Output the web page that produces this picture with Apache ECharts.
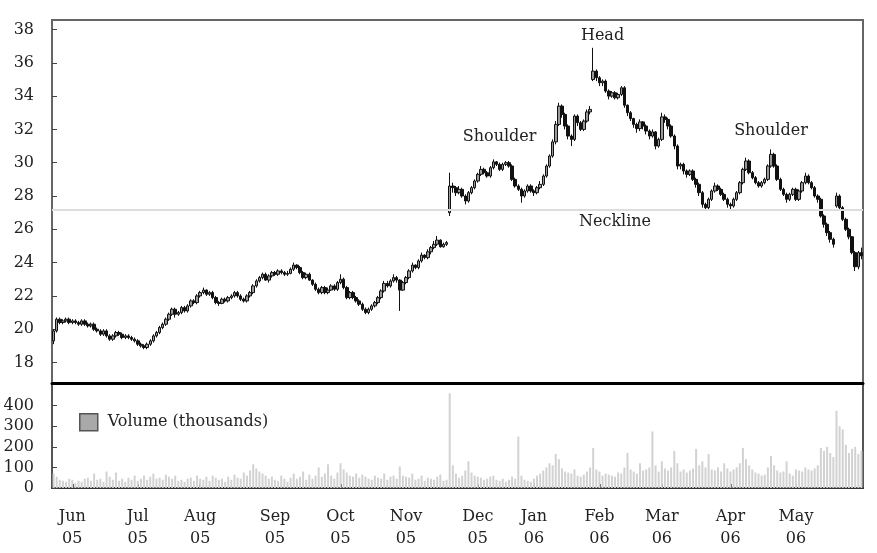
<!DOCTYPE html>
<html><head><meta charset="utf-8">
<script src="https://cdn.jsdelivr.net/npm/echarts@6/dist/echarts.min.js"></script>
<style>html,body{margin:0;padding:0;background:#fff}#c{width:877px;height:553px}</style>
</head><body><div id="c"></div>
<script>
// Month labels for the x axis (first block is the tail of May 05, unlabeled)
const monthLabels = ['May\n05','Jun\n05','Jul\n05','Aug\n05','Sep\n05','Oct\n05','Nov\n05','Dec\n05','Jan\n06','Feb\n06','Mar\n06','Apr\n06','May\n06'];

// Daily rows: [open, close, low, high, volume (thousands)]
const may05 = [
[19.3,19.9,19.1,20.0,70],[19.9,20.6,19.8,20.7,55],[20.6,20.4,20.3,20.7,40],[20.4,20.5,20.3,20.6,35],[20.5,20.6,20.4,20.7,30],[20.6,20.4,20.3,20.7,45]];
const jun05 = [
[20.4,20.5,20.3,20.6,40],[20.5,20.4,20.3,20.6,25],[20.4,20.3,20.2,20.5,35],[20.3,20.5,20.2,20.6,30],[20.5,20.3,20.2,20.6,45],
[20.3,20.2,20.1,20.4,50],[20.2,20.3,20.1,20.4,35],[20.3,20.0,19.9,20.4,70],[20.0,19.9,19.8,20.1,40],[19.9,19.7,19.6,20.0,45],
[19.7,19.9,19.6,20.0,30],[19.9,19.6,19.5,20.0,80],[19.6,19.4,19.3,19.7,55],[19.4,19.6,19.3,19.7,40],[19.6,19.8,19.5,19.9,75],
[19.8,19.7,19.6,19.9,35],[19.7,19.5,19.4,19.8,45],[19.5,19.6,19.4,19.7,30],[19.6,19.5,19.4,19.7,50],[19.5,19.4,19.3,19.6,40],
[19.4,19.3,19.2,19.5,60]];
const jul05 = [
[19.3,19.1,19.0,19.4,35],[19.1,19.0,18.9,19.2,45],[19.0,18.9,18.8,19.1,60],[18.9,19.1,18.8,19.2,40],[19.1,19.3,19.0,19.4,55],
[19.3,19.6,19.2,19.7,70],[19.6,19.8,19.5,19.9,45],[19.8,20.1,19.7,20.2,50],[20.1,20.3,20.0,20.4,40],[20.3,20.6,20.2,20.7,65],
[20.6,20.9,20.5,21.0,55],[20.9,21.2,20.8,21.3,45],[21.2,20.9,20.7,21.3,60],[20.9,21.0,20.8,21.1,35],[21.0,21.3,20.9,21.4,40],
[21.3,21.1,21.0,21.4,30],[21.1,21.4,21.0,21.5,45],[21.4,21.7,21.3,21.8,50],[21.7,21.6,21.5,21.8,35],[21.6,22.0,21.5,22.1,60]];
const aug05 = [
[22.0,22.2,21.9,22.3,45],[22.2,22.35,22.1,22.5,40],[22.35,22.1,22.0,22.4,55],[22.1,22.2,22.0,22.3,35],[22.2,21.9,21.8,22.3,60],
[21.9,21.6,21.5,22.0,50],[21.6,21.55,21.4,21.7,40],[21.55,21.8,21.5,21.9,45],[21.8,21.7,21.6,21.9,30],[21.7,21.9,21.6,22.0,55],
[21.9,22.0,21.8,22.1,40],[22.0,22.2,21.9,22.3,65],[22.2,22.0,21.9,22.3,50],[22.0,21.8,21.7,22.1,45],[21.8,21.7,21.6,21.9,75],
[21.7,22.0,21.6,22.1,60],[22.0,22.2,21.9,22.3,85],[22.2,22.6,22.1,22.7,115],[22.6,22.9,22.5,23.0,95],[22.9,23.1,22.8,23.2,80],
[23.1,23.3,23.0,23.4,70],[23.3,22.95,22.9,23.4,60],[22.95,23.2,22.8,23.3,45],[23.2,23.4,23.1,23.5,55]];
const sep05 = [
[23.4,23.3,23.2,23.5,40],[23.3,23.5,23.2,23.6,35],[23.5,23.4,23.3,23.6,60],[23.4,23.3,23.2,23.5,45],[23.3,23.35,23.2,23.5,30],
[23.35,23.6,23.3,23.7,50],[23.6,23.85,23.5,24.0,70],[23.85,23.7,23.6,23.9,45],[23.7,23.4,23.3,23.8,55],[23.4,23.1,23.0,23.5,80],
[23.1,23.3,23.0,23.4,40],[23.3,22.95,22.9,23.4,65],[22.95,22.7,22.6,23.0,45],[22.7,22.4,22.3,22.8,60],[22.4,22.2,22.1,22.5,100],
[22.2,22.5,22.1,22.6,55],[22.5,22.2,22.1,22.6,70],[22.2,22.35,22.1,22.5,115],[22.35,22.6,22.3,22.7,60],[22.6,22.4,22.3,22.7,45],
[22.4,22.8,22.3,22.9,75]];
const oct05 = [
[22.8,23.0,22.7,23.3,120],[23.0,22.5,22.4,23.1,90],[22.5,21.9,21.8,22.6,75],[21.9,22.2,21.8,22.3,60],[22.2,21.9,21.8,22.3,55],
[21.9,21.7,21.6,22.0,70],[21.7,21.5,21.4,21.8,50],[21.5,21.2,21.1,21.6,65],[21.2,21.0,20.9,21.3,55],[21.0,21.2,20.9,21.3,45],
[21.2,21.4,21.1,21.5,40],[21.4,21.6,21.3,21.7,60],[21.6,21.9,21.5,22.0,50],[21.9,22.3,21.8,22.4,45],[22.3,22.75,22.2,22.9,70],
[22.75,22.6,22.5,22.9,40],[22.6,22.9,22.5,23.0,55],[22.9,23.1,22.8,23.3,60],[23.1,22.95,22.8,23.2,45],[22.95,22.35,21.1,23.0,105],
[22.35,22.8,22.3,22.9,60]];
const nov05 = [
[22.8,23.1,22.7,23.2,55],[23.1,23.5,23.0,23.6,50],[23.5,23.85,23.4,24.0,70],[23.85,23.7,23.6,23.9,40],[23.7,24.1,23.6,24.2,45],
[24.1,24.45,24.0,24.6,60],[24.45,24.3,24.2,24.5,35],[24.3,24.65,24.2,24.8,50],[24.65,24.9,24.5,25.0,45],[24.9,25.1,24.8,25.3,40],
[25.1,25.35,25.0,25.6,55],[25.35,24.95,24.9,25.4,65],[24.95,25.1,24.9,25.2,35],[25.1,25.2,25.0,25.3,40],[27.0,28.6,26.8,29.4,460],
[28.6,28.5,28.2,28.8,110],[28.5,28.2,28.0,28.6,70],[28.2,28.4,28.1,28.6,50],[28.4,28.0,27.9,28.5,60],[28.0,27.7,27.5,28.1,85],
[27.7,28.2,27.6,28.3,130],[28.2,28.5,28.1,28.6,75],[28.5,28.9,28.4,29.0,60]];
const dec05 = [
[28.9,29.3,28.8,29.4,55],[29.3,29.6,29.2,29.8,50],[29.6,29.4,29.3,29.7,40],[29.4,29.2,29.1,29.5,45],[29.2,29.7,29.1,29.8,55],
[29.7,30.05,29.6,30.2,60],[30.05,29.9,29.8,30.1,40],[29.9,29.6,29.5,30.0,35],[29.6,29.9,29.5,30.0,45],[29.9,30.0,29.8,30.1,30],
[30.0,29.8,29.7,30.1,40],[29.8,29.0,28.9,29.9,55],[29.0,28.6,28.5,29.1,45],[28.6,28.4,28.3,28.7,250],[28.4,28.0,27.6,28.5,60],
[28.0,28.3,27.9,28.4,40],[28.3,28.6,28.2,28.7,35],[28.6,28.3,28.2,28.7,30]];
const jan06 = [
[28.3,28.2,28.0,28.4,45],[28.2,28.5,28.1,28.6,60],[28.5,28.7,28.4,28.9,70],[28.7,29.2,28.6,29.3,85],[29.2,29.8,29.1,29.9,100],
[29.8,30.4,29.7,30.5,120],[30.4,31.25,30.3,31.4,110],[31.25,32.3,31.1,32.5,165],[32.3,33.4,32.2,33.6,140],[33.4,32.9,32.7,33.5,95],
[32.9,32.2,32.0,33.0,80],[32.2,31.6,31.4,32.3,75],[31.6,31.4,31.0,31.7,70],[31.4,32.8,31.3,32.9,90],[32.8,32.4,32.2,32.9,60],
[32.4,32.0,31.9,32.5,55],[32.0,32.5,31.9,32.6,65],[32.5,33.05,32.4,33.2,80],[33.05,33.2,32.9,33.4,100],[35.0,35.5,34.9,36.9,195],
[35.5,35.1,34.9,35.6,90]];
const feb06 = [
[35.1,34.8,34.6,35.2,80],[34.8,34.9,34.6,35.0,60],[34.9,34.3,34.2,35.0,70],[34.3,34.0,33.8,34.4,65],[34.0,34.2,33.9,34.3,60],
[34.2,33.9,33.8,34.3,55],[33.9,34.1,33.8,34.2,75],[34.1,34.5,34.0,34.6,70],[34.5,33.45,33.3,34.6,100],[33.45,33.0,32.8,33.5,170],
[33.0,32.65,32.5,33.1,90],[32.65,32.3,32.1,32.7,80],[32.3,32.05,31.8,32.4,70],[32.05,32.45,31.9,32.6,120],[32.45,32.2,32.0,32.5,85],
[32.2,31.9,31.7,32.3,90],[31.9,31.6,31.4,32.0,100],[31.6,31.85,31.5,32.0,275],[31.85,31.0,30.8,31.9,110],[31.0,31.4,30.9,31.5,80]];
const mar06 = [
[31.4,32.75,31.3,33.0,130],[32.75,32.6,32.4,32.9,95],[32.6,32.2,32.0,32.7,85],[32.2,31.6,31.5,32.3,100],[31.6,31.0,30.8,31.7,180],
[31.0,29.8,29.6,31.1,120],[29.8,29.9,29.6,30.0,80],[29.9,29.5,29.3,30.0,90],[29.5,29.3,29.1,29.6,75],[29.3,29.5,29.2,29.6,85],
[29.5,29.0,28.9,29.6,95],[29.0,28.7,28.5,29.1,190],[28.7,28.2,28.0,28.8,110],[28.2,27.5,27.3,28.3,130],[27.5,27.3,27.1,27.6,100],
[27.3,27.8,27.2,27.9,165],[27.8,28.3,27.7,28.4,90],[28.3,28.6,28.2,28.8,85],[28.6,28.4,28.3,28.7,100],[28.4,28.1,28.0,28.5,80],
[28.1,27.8,27.7,28.2,120],[27.8,27.5,27.3,27.9,95]];
const apr06 = [
[27.5,27.4,27.2,27.6,80],[27.4,27.8,27.3,27.9,90],[27.8,28.2,27.7,28.3,100],[28.2,28.8,28.1,28.9,120],[28.8,29.6,28.7,29.7,195],
[29.6,30.1,29.5,30.3,140],[30.1,29.4,29.3,30.2,110],[29.4,29.1,29.0,29.5,90],[29.1,28.8,28.7,29.2,75],[28.8,28.6,28.5,28.9,70],
[28.6,28.8,28.5,28.9,60],[28.8,29.0,28.7,29.1,65],[29.0,29.8,28.9,29.9,100],[29.8,30.5,29.7,30.8,155],[30.5,29.8,29.7,30.6,110],
[29.8,29.0,28.9,29.9,85],[29.0,28.4,28.3,29.1,75],[28.4,28.1,28.0,28.5,80],[28.1,27.8,27.6,28.2,130],[27.8,28.1,27.7,28.2,70],
[28.1,28.4,28.0,28.5,60]];
const may06 = [
[28.4,27.8,27.7,28.5,90],[27.8,28.3,27.7,28.4,85],[28.3,28.8,28.2,28.9,80],[28.8,29.2,28.7,29.4,100],[29.2,28.8,28.7,29.3,90],
[28.8,28.5,28.4,28.9,85],[28.5,28.0,27.9,28.6,95],[28.0,27.8,27.6,28.1,110],[27.8,26.8,26.7,27.9,195],[26.8,26.3,26.1,26.9,180],
[26.3,25.8,25.6,26.4,200],[25.8,25.4,25.2,25.9,170],[25.4,25.1,24.9,25.5,150],[27.4,28.0,27.3,28.2,375],[28.0,27.3,27.2,28.1,300],
[27.3,26.6,26.5,27.4,285],[26.6,26.0,25.9,26.7,210],[26.0,25.55,25.4,26.1,170],[25.55,24.6,24.5,25.6,190],[24.6,23.75,23.5,24.7,200],
[23.75,24.6,23.6,24.7,165],[24.6,24.4,24.2,24.9,180]];

const monthBlocks = [may05, jun05, jul05, aug05, sep05, oct05, nov05, dec05, jan06, feb06, mar06, apr06, may06];

const priceTicks = [18,20,22,24,26,28,30,32,34,36,38];
const volumeTicks = [0,100,200,300,400];
const necklineValue = 27.16;
// [text, day index, price]
const annotations = [['Head',176,37.6],['Shoulder',143,31.56],['Shoulder',230,31.92],['Neckline',180,26.46]];

const categories = [], ohlc = [], volume = [], monthStart = {};
monthBlocks.forEach((blk, m) => blk.forEach((r, d) => {
  const idx = categories.length;
  if (d === 0 && m > 0) monthStart[idx] = monthLabels[m];
  categories.push(monthLabels[m].replace('\n', ' ') + ' #' + (d + 1));
  ohlc.push([r[0], r[1], r[2], r[3]]);
  volume.push(r[4]);
}));

const FONT = 'DejaVu Serif';
const txt = {fontFamily: FONT, fontSize: 16, color: '#222'};
const isMonth = (i) => Object.prototype.hasOwnProperty.call(monthStart, i);

const chart = echarts.init(document.getElementById('c'), null, {renderer: 'canvas'});
chart.setOption({
  backgroundColor: '#fff',
  animation: false,
  legend: {
    show: true, left: 74, top: 408, itemWidth: 18, itemHeight: 17,
    textStyle: Object.assign({}, txt, {padding: [0,0,0,5]}),
    data: [{name: 'Volume (thousands)', icon: 'rect', itemStyle: {color: '#a9a9a9', borderColor: '#555', borderWidth: 1.5}}]
  },
  grid: [
    {left: 52, right: 14, top: 20, height: 363, show: true, borderColor: '#666', borderWidth: 2, backgroundColor: 'transparent'},
    {left: 52, right: 14, top: 383, height: 105, show: true, borderColor: '#555', borderWidth: 2, backgroundColor: 'transparent'}
  ],
  xAxis: [
    {type: 'category', gridIndex: 0, data: categories, boundaryGap: true,
     axisLine: {show: true, lineStyle: {color: '#000', width: 3}},
     axisTick: {show: false}, axisLabel: {show: false}, splitLine: {show: false}},
    {type: 'category', gridIndex: 1, data: categories, boundaryGap: true,
     axisLine: {show: true, lineStyle: {color: '#333', width: 2}},
     axisTick: {show: true, inside: true, length: 4, alignWithLabel: true, interval: (i) => isMonth(i), lineStyle: {color: '#333', width: 2}},
     axisLabel: Object.assign({}, txt, {interval: (i) => isMonth(i), formatter: (v, i) => monthStart[i] || '', margin: 18, lineHeight: 22, align: 'center'}),
     splitLine: {show: false}}
  ],
  yAxis: [
    {type: 'value', gridIndex: 0, min: 16.77, max: 38.57, scale: true,
     axisLine: {show: false},
     axisTick: {show: true, inside: true, length: 5, customValues: priceTicks, lineStyle: {color: '#444'}},
     axisLabel: Object.assign({}, txt, {customValues: priceTicks, margin: 18}),
     splitLine: {show: false}},
    {type: 'value', gridIndex: 1, min: 0, max: 510,
     axisLine: {show: false},
     axisTick: {show: true, inside: true, length: 5, customValues: volumeTicks, lineStyle: {color: '#444'}},
     axisLabel: Object.assign({}, txt, {customValues: volumeTicks, margin: 18}),
     splitLine: {show: false}}
  ],
  series: [
    {type: 'candlestick', name: 'Price', xAxisIndex: 0, yAxisIndex: 0, data: ohlc, barWidth: 3,
     itemStyle: {color: '#9a9a9a', borderColor: '#111', color0: '#111', borderColor0: '#111', borderWidth: 1},
     markLine: {silent: true, symbol: 'none', label: {show: false}, lineStyle: {color: '#dddddd', width: 2, type: 'solid'},
       data: [{yAxis: necklineValue}]},
     markPoint: {silent: true, symbol: 'rect', symbolSize: 1, itemStyle: {color: 'rgba(0,0,0,0)'},
       label: Object.assign({}, txt, {show: true, position: 'inside', formatter: (p) => p.name}),
       data: annotations.map(a => ({name: a[0], coord: [categories[a[1]], a[2]]}))}},
    {type: 'bar', name: 'Volume (thousands)', xAxisIndex: 1, yAxisIndex: 1, data: volume, barWidth: 2,
     itemStyle: {color: '#d2d2d2'}}
  ]
});
</script></body></html>
